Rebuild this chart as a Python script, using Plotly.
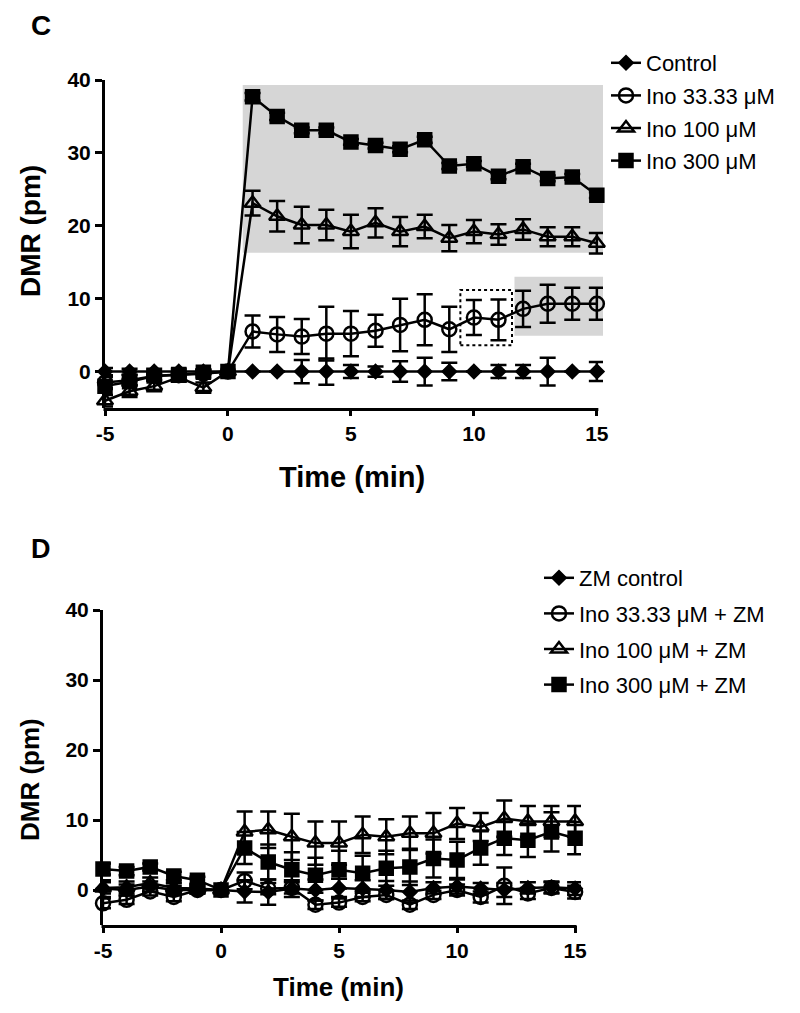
import plotly.graph_objects as go

# ---------------- data ----------------
time_min = [-5, -4, -3, -2, -1, 0, 1, 2, 3, 4, 5, 6, 7, 8, 9, 10, 11, 12, 13, 14, 15]

# Panel C
ctrl_C = [0, 0, 0, 0, 0, 0, 0, 0, 0, 0, 0, 0, 0, 0, 0, 0, 0, 0, 0, 0, 0]
ctrl_C_err = [0.5, 0.4, 0.4, 0.4, 0.3, 0, 0, 0, 1.6, 1.8, 0.9, 0.7, 1.4, 1.9, 1.2, 0, 0.9, 0.9, 1.9, 0, 1.3]
ino33_C = [-1.5, -1.2, -0.6, -0.5, -0.3, 0, 5.5, 5.1, 4.8, 5.2, 5.2, 5.6, 6.4, 7.1, 5.8, 7.4, 7.1, 8.6, 9.3, 9.3, 9.3]
ino33_C_err = [0.8, 0.7, 0.6, 0.5, 0.5, 0, 2.2, 2.4, 2.4, 3.7, 3.1, 2.2, 3.6, 3.5, 3.1, 2.4, 2.8, 2.5, 2.6, 2.2, 2.2]
ino100_C = [-4.0, -2.7, -2.0, -0.8, -2.2, 0, 23.1, 21.3, 20.1, 20.1, 19.2, 20.4, 19.2, 19.9, 18.3, 19.2, 18.8, 19.5, 18.5, 18.5, 17.6]
ino100_C_err = [0.8, 0.8, 0.7, 0.6, 0.7, 0, 1.7, 2.1, 2.5, 2.1, 2.3, 2.0, 2.0, 1.6, 1.8, 1.6, 1.4, 1.4, 1.3, 1.3, 1.4]
ino300_C = [-2.0, -1.4, -0.6, -0.4, -0.1, 0, 37.7, 35.0, 33.1, 33.1, 31.5, 31.0, 30.5, 31.8, 28.2, 28.5, 26.8, 28.1, 26.5, 26.7, 24.2]
ino300_C_err = [0.4, 0.4, 0.4, 0.3, 0.3, 0, 0.5, 0.5, 0.4, 0.4, 0.4, 0.4, 0.4, 0.4, 0.4, 0.4, 0.4, 0.4, 0.4, 0.4, 0.4]
names_C = ["Control", "Ino 33.33 \u03bcM", "Ino 100 \u03bcM", "Ino 300 \u03bcM"]

# Panel D
ctrl_D = [0.2, 0.0, 0.5, 0.0, 0.0, 0, -0.2, -0.3, 0.2, 0.0, 0.3, 0.2, 0.0, -0.3, 0.3, 0.5, 0.2, 0.0, 0.3, 0.4, 0.2]
ctrl_D_err = [1.2, 0.8, 0.7, 0.6, 0.5, 0, 1.6, 1.8, 1.2, 1.5, 1.3, 1.2, 1.3, 1.5, 0.8, 1.0, 0.8, 1.0, 0.8, 0.8, 0.9]
ino33_D = [-1.9, -1.4, -0.2, -1.0, 0.0, 0, 1.3, 0.2, 0.3, -2.1, -1.8, -1.0, -0.7, -2.1, -0.7, 0.0, -1.0, 0.6, -0.5, 0.3, -0.3]
ino33_D_err = [0.7, 0.6, 0.6, 0.6, 0.5, 0, 1.2, 0.8, 0.8, 0.6, 0.6, 0.6, 0.6, 0.6, 0.6, 0.8, 0.8, 2.6, 0.8, 0.8, 0.9]
ino100_D = [0.3, 0.4, 1.0, 0.3, 0.2, 0, 8.3, 8.6, 7.6, 6.7, 6.7, 7.9, 7.6, 8.1, 8.1, 9.5, 9.0, 10.2, 9.8, 9.8, 9.8]
ino100_D_err = [0.8, 0.8, 0.8, 0.7, 0.6, 0, 2.9, 2.6, 3.3, 3.1, 3.1, 2.6, 2.5, 2.4, 2.9, 2.2, 2.0, 2.6, 2.2, 2.2, 2.2]
ino300_D = [3.0, 2.7, 3.3, 2.0, 1.4, 0, 6.0, 4.0, 2.9, 2.1, 2.9, 2.4, 3.1, 3.3, 4.5, 4.3, 6.0, 7.4, 7.1, 8.3, 7.4]
ino300_D_err = [0.8, 0.6, 0.5, 0.6, 0.5, 0, 2.3, 2.5, 2.5, 2.5, 2.7, 2.5, 2.5, 2.6, 2.7, 2.6, 2.4, 2.4, 2.4, 2.8, 2.3]
names_D = ["ZM control", "Ino 33.33 \u03bcM + ZM", "Ino 100 \u03bcM + ZM", "Ino 300 \u03bcM + ZM"]

x_ticks = [-5, 0, 5, 10, 15]
x_ticktext = ["-5", "0", "5", "10", "15"]
y_ticks = [0, 10, 20, 30, 40]

# ---------------- layout geometry ----------------
W, H = 800, 1013
OFF = 8  # page body margin
FONT = "Liberation Sans, Arial, Helvetica, sans-serif"
X_RANGE = [-5, 15.25]
Y_RANGE = [-5, 40]

def px_x(p):
    return (p - OFF) / W

def px_y(p):
    return 1 - (p - OFF) / H

# plot areas (pixels in the screenshot)
C_left, C_right, C_top, C_bot = 105, 603, 80, 408
D_left, D_right, D_top, D_bot = 103, 581, 610, 925

symbols = ["diamond", "circle-open", "triangle-up-open", "square"]
sizes = [10, 14, 14, 13]

fig = go.Figure()

def add_series(xa, ya, ys, errs, names, legend):
    for s, e, n, sym, sz in zip(ys, errs, names, symbols, sizes):
        fig.add_trace(go.Scatter(
            x=time_min, y=s, name=n, mode="lines+markers",
            xaxis=xa, yaxis=ya, legend=legend, legendgroup=legend + n,
            line=dict(color="black", width=2.5),
            marker=dict(symbol=sym, size=sz, color="black",
                        line=dict(color="black", width=2.5)),
            error_y=dict(type="data", array=e, visible=True, color="black",
                         thickness=2.5, width=8),
            cliponaxis=False,
        ))

add_series("x", "y", [ctrl_C, ino33_C, ino100_C, ino300_C],
           [ctrl_C_err, ino33_C_err, ino100_C_err, ino300_C_err], names_C, "legend")
add_series("x2", "y2", [ctrl_D, ino33_D, ino100_D, ino300_D],
           [ctrl_D_err, ino33_D_err, ino100_D_err, ino300_D_err], names_D, "legend2")

tickfont = dict(family=FONT, size=21, color="black", weight="bold")

def xaxis(dom, anchor):
    return dict(domain=dom, range=X_RANGE, anchor=anchor, showline=False,
                showgrid=False, zeroline=False, ticks="outside", ticklen=7,
                tickwidth=3, tickcolor="black", tickvals=x_ticks, ticktext=x_ticktext,
                tickfont=tickfont, fixedrange=True)

def yaxis(dom, anchor):
    return dict(domain=dom, range=Y_RANGE, anchor=anchor, showline=True,
                linewidth=3, linecolor="black", showgrid=False, zeroline=False,
                ticks="outside", ticklen=7, tickwidth=3, tickcolor="black",
                tickvals=y_ticks, tickfont=tickfont, fixedrange=True)

legend_font = dict(family=FONT, size=22, color="black")

fig.update_layout(
    width=W, height=H, margin=dict(l=0, r=0, t=0, b=0, autoexpand=False),
    paper_bgcolor="white", plot_bgcolor="rgba(0,0,0,0)",
    xaxis=xaxis([px_x(C_left), px_x(C_right)], "y"),
    yaxis=yaxis([px_y(C_bot), px_y(C_top)], "x"),
    xaxis2=xaxis([px_x(D_left), px_x(D_right)], "y2"),
    yaxis2=yaxis([px_y(D_bot), px_y(D_top)], "x2"),
    legend=dict(x=px_x(606), y=px_y(42), xanchor="left", yanchor="top",
                font=legend_font, bgcolor="rgba(0,0,0,0)", tracegroupgap=1),
    legend2=dict(x=px_x(539), y=px_y(557), xanchor="left", yanchor="top",
                 font=legend_font, bgcolor="rgba(0,0,0,0)", tracegroupgap=4),
    showlegend=True,
)

def x_to_px(v, left, right):
    return left + (v - X_RANGE[0]) / (X_RANGE[1] - X_RANGE[0]) * (right - left)

shapes = []
for left, right, bot in [(C_left, C_right, C_bot), (D_left, D_right, D_bot)]:
    shapes.append(dict(type="line", xref="paper", yref="paper",
                       x0=px_x(left - 1.5), x1=px_x(x_to_px(15, left, right) + 1.5),
                       y0=px_y(bot + 1.5), y1=px_y(bot + 1.5),
                       line=dict(color="black", width=3)))

shapes.append(dict(type="rect", xref="x", yref="y", x0=0.6, x1=15.25, y0=16.3, y1=39.3,
                   fillcolor="#d6d6d6", line=dict(width=0), layer="below"))
shapes.append(dict(type="rect", xref="x", yref="y", x0=11.65, x1=15.25, y0=4.9, y1=13.0,
                   fillcolor="#d6d6d6", line=dict(width=0), layer="below"))
shapes.append(dict(type="rect", xref="x", yref="y", x0=9.45, x1=11.55, y0=3.6, y1=11.2,
                   fillcolor="rgba(0,0,0,0)", line=dict(color="black", width=2, dash="dot"),
                   layer="above"))
fig.update_layout(shapes=shapes)

def label(text, x, y, size, angle=0):
    return dict(text=text, x=px_x(x), y=px_y(y), xref="paper", yref="paper",
                xanchor="center", yanchor="middle", textangle=angle, showarrow=False,
                font=dict(family=FONT, size=size, color="black", weight="bold"))

ann = [
    label("C", 41, 25, 28),
    label("D", 41, 549, 27),
    label("DMR (pm)", 30, 231, 28, -90),
    label("DMR (pm)", 30, 780, 26, -90),
    label("Time (min)", 352, 477, 29),
    label("Time (min)", 338, 987, 26),
]
fig.update_layout(annotations=ann)

fig.write_html("out.html")
